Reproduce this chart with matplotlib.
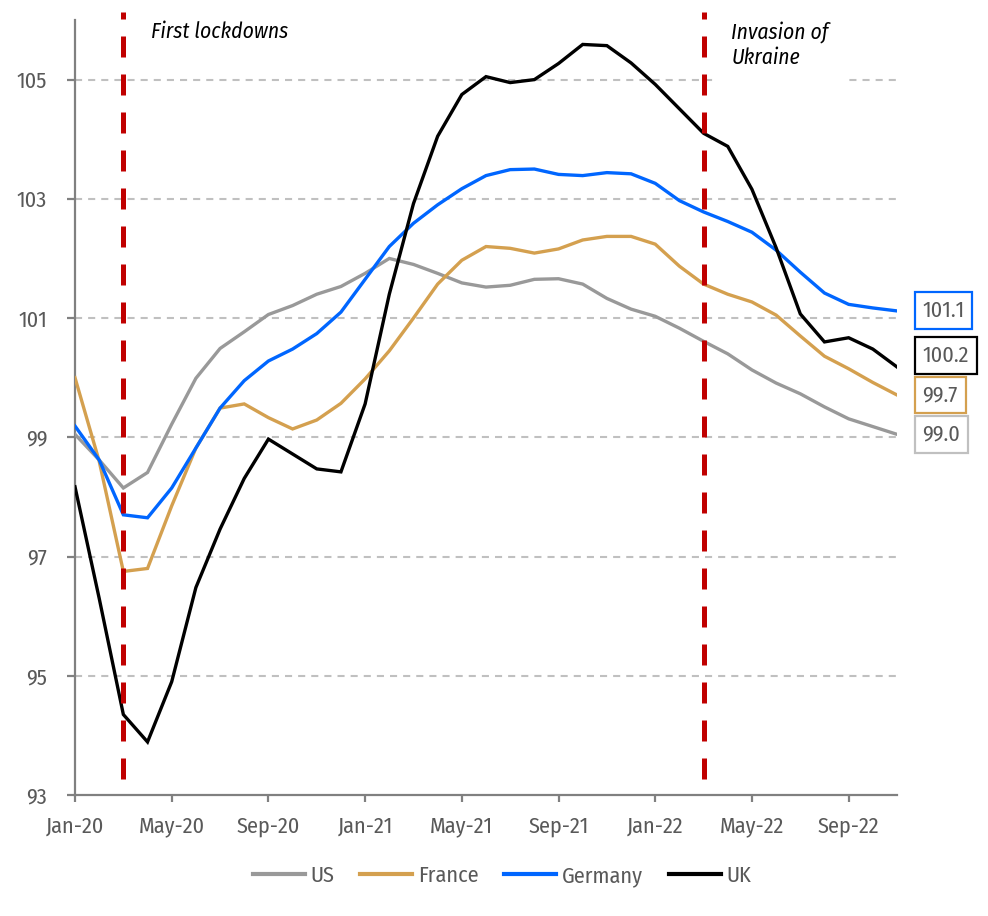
import matplotlib
matplotlib.use("Agg")
import matplotlib.pyplot as plt
from matplotlib import font_manager as fm
from matplotlib.lines import Line2D
import pandas as pd

names = {f.name for f in fm.fontManager.ttflist}
def pick(cands):
    for c in cands:
        if c in names:
            return c
    return "DejaVu Sans"
FONT = pick(["Ubuntu Condensed", "Fira Sans Condensed", "Roboto Condensed"])
IFONT = pick(["Fira Sans Condensed", "Roboto Condensed"])
plt.rcParams["font.family"] = [FONT, "DejaVu Sans"]

# ---- data (monthly index, Jan-20 .. Nov-22) ----
months = pd.date_range("2020-01-01", periods=35, freq="MS")
us = [99.05, 98.62, 98.15, 98.41, 99.22, 99.99, 100.49, 100.77, 101.06, 101.21,
      101.40, 101.53, 101.75, 102.00, 101.90, 101.75, 101.59, 101.52, 101.55, 101.65,
      101.66, 101.57, 101.33, 101.15, 101.03, 100.83, 100.61, 100.40, 100.13, 99.91,
      99.73, 99.51, 99.31, 99.18, 99.05]
france = [100.0, 98.6, 96.75, 96.80, 97.85, 98.82, 99.49, 99.56, 99.33, 99.14,
          99.29, 99.57, 99.98, 100.45, 101.0, 101.57, 101.97, 102.2, 102.17, 102.09,
          102.16, 102.31, 102.37, 102.37, 102.24, 101.87, 101.57, 101.40, 101.27, 101.05,
          100.70, 100.36, 100.15, 99.92, 99.71]
germany = [99.19, 98.62, 97.70, 97.65, 98.15, 98.82, 99.49, 99.95, 100.28, 100.48,
           100.74, 101.10, 101.65, 102.20, 102.59, 102.90, 103.17, 103.39, 103.49, 103.50,
           103.41, 103.39, 103.44, 103.42, 103.26, 102.97, 102.78, 102.62, 102.44, 102.14,
           101.77, 101.42, 101.23, 101.17, 101.12]
uk = [98.17, 96.3, 94.35, 93.89, 94.90, 96.48, 97.46, 98.31, 98.97, 98.72,
      98.47, 98.42, 99.56, 101.40, 102.92, 104.05, 104.75, 105.05, 104.95, 105.0,
      105.27, 105.59, 105.57, 105.28, 104.92, 104.51, 104.10, 103.88, 103.16, 102.18,
      101.07, 100.60, 100.67, 100.48, 100.18]

series_names = ["US", "France", "Germany", "UK"]
series_vals = [us, france, germany, uk]
series_colors = ["#999999", "#D4A04F", "#0066FF", "#000000"]
box_colors = ["#C0C0C0", "#D4A04F", "#0066FF", "#000000"]
end_labels = ["99.0", "99.7", "101.1", "100.2"]
label_nudge = [0.0, 0.0, 0.0, 0.19]

event_idx = [2, 26]
event_text = ["First lockdowns", "Invasion of\nUkraine"]

yticks = [93, 95, 97, 99, 101, 103, 105]
xtick_idx = list(range(0, 35, 4))

# ---- figure ----
fig = plt.figure(figsize=(9.88, 9.16), dpi=100)
ax = fig.add_axes([75/988, 1-795/916, 822/988, (795-20)/916])

x = list(range(len(months)))
TXT = "#595959"

for yv in yticks[1:]:
    ax.plot([0, 34], [yv, yv], color="#C0C0C0", lw=1.5, dashes=(3.4, 2.9), zorder=1)

for name, vals, col in zip(series_names, series_vals, series_colors):
    ax.plot(x, vals, color=col, lw=2.4, zorder=3, label=name,
            solid_joinstyle="miter")

for ei in event_idx:
    ax.plot([ei, ei], [93.27, 106.13], color="#C00000", lw=3.6, dashes=(4.2, 3.4),
            zorder=4, clip_on=False)

ax.text(3.15, 105.8, event_text[0], fontsize=15.5, style="italic", ha="left",
        va="center", color="black", zorder=5, family=[IFONT, "DejaVu Sans"])
ax.text(27.15, 105.97, event_text[1], fontsize=15.5, style="italic", ha="left",
        va="top", color="black", linespacing=1.2, zorder=5,
        family=[IFONT, "DejaVu Sans"],
        bbox=dict(facecolor="white", edgecolor="none", boxstyle="square,pad=0.7"))

for vals, lab, bc, nud in zip(series_vals, end_labels, box_colors, label_nudge):
    ax.text(35.05, vals[-1] + nud, lab, fontsize=16, color=TXT, ha="left",
            va="center", clip_on=False,
            bbox=dict(facecolor="white", edgecolor=bc, lw=1.6,
                      boxstyle="square,pad=0.35"))

ax.set_xlim(0, 34)
ax.set_ylim(93, 106)
ax.set_yticks(yticks)
ax.set_yticklabels([str(v) for v in yticks])
ax.set_xticks(xtick_idx)
ax.set_xticklabels([months[i].strftime("%b-%y") for i in xtick_idx])

for s in ["top", "right"]:
    ax.spines[s].set_visible(False)
for s in ["left", "bottom"]:
    ax.spines[s].set_color("#808080")
    ax.spines[s].set_linewidth(1.6)
ax.tick_params(axis="y", length=6, width=1.6, color="#808080", labelsize=16,
               labelcolor=TXT, pad=14)
ax.tick_params(axis="x", length=5, width=1.6, color="#808080", labelsize=16,
               labelcolor=TXT, pad=10)

leg_handles = [Line2D([], [], color=c, lw=3.0) for c in series_colors]
fig.legend(handles=leg_handles, labels=series_names, loc="center",
           bbox_to_anchor=(502/988, 1-876/916), ncol=4, frameon=False,
           fontsize=16, handlelength=2.35, handletextpad=0.25, columnspacing=1.15,
           labelcolor=TXT)

fig.savefig("out.png", dpi=100)
